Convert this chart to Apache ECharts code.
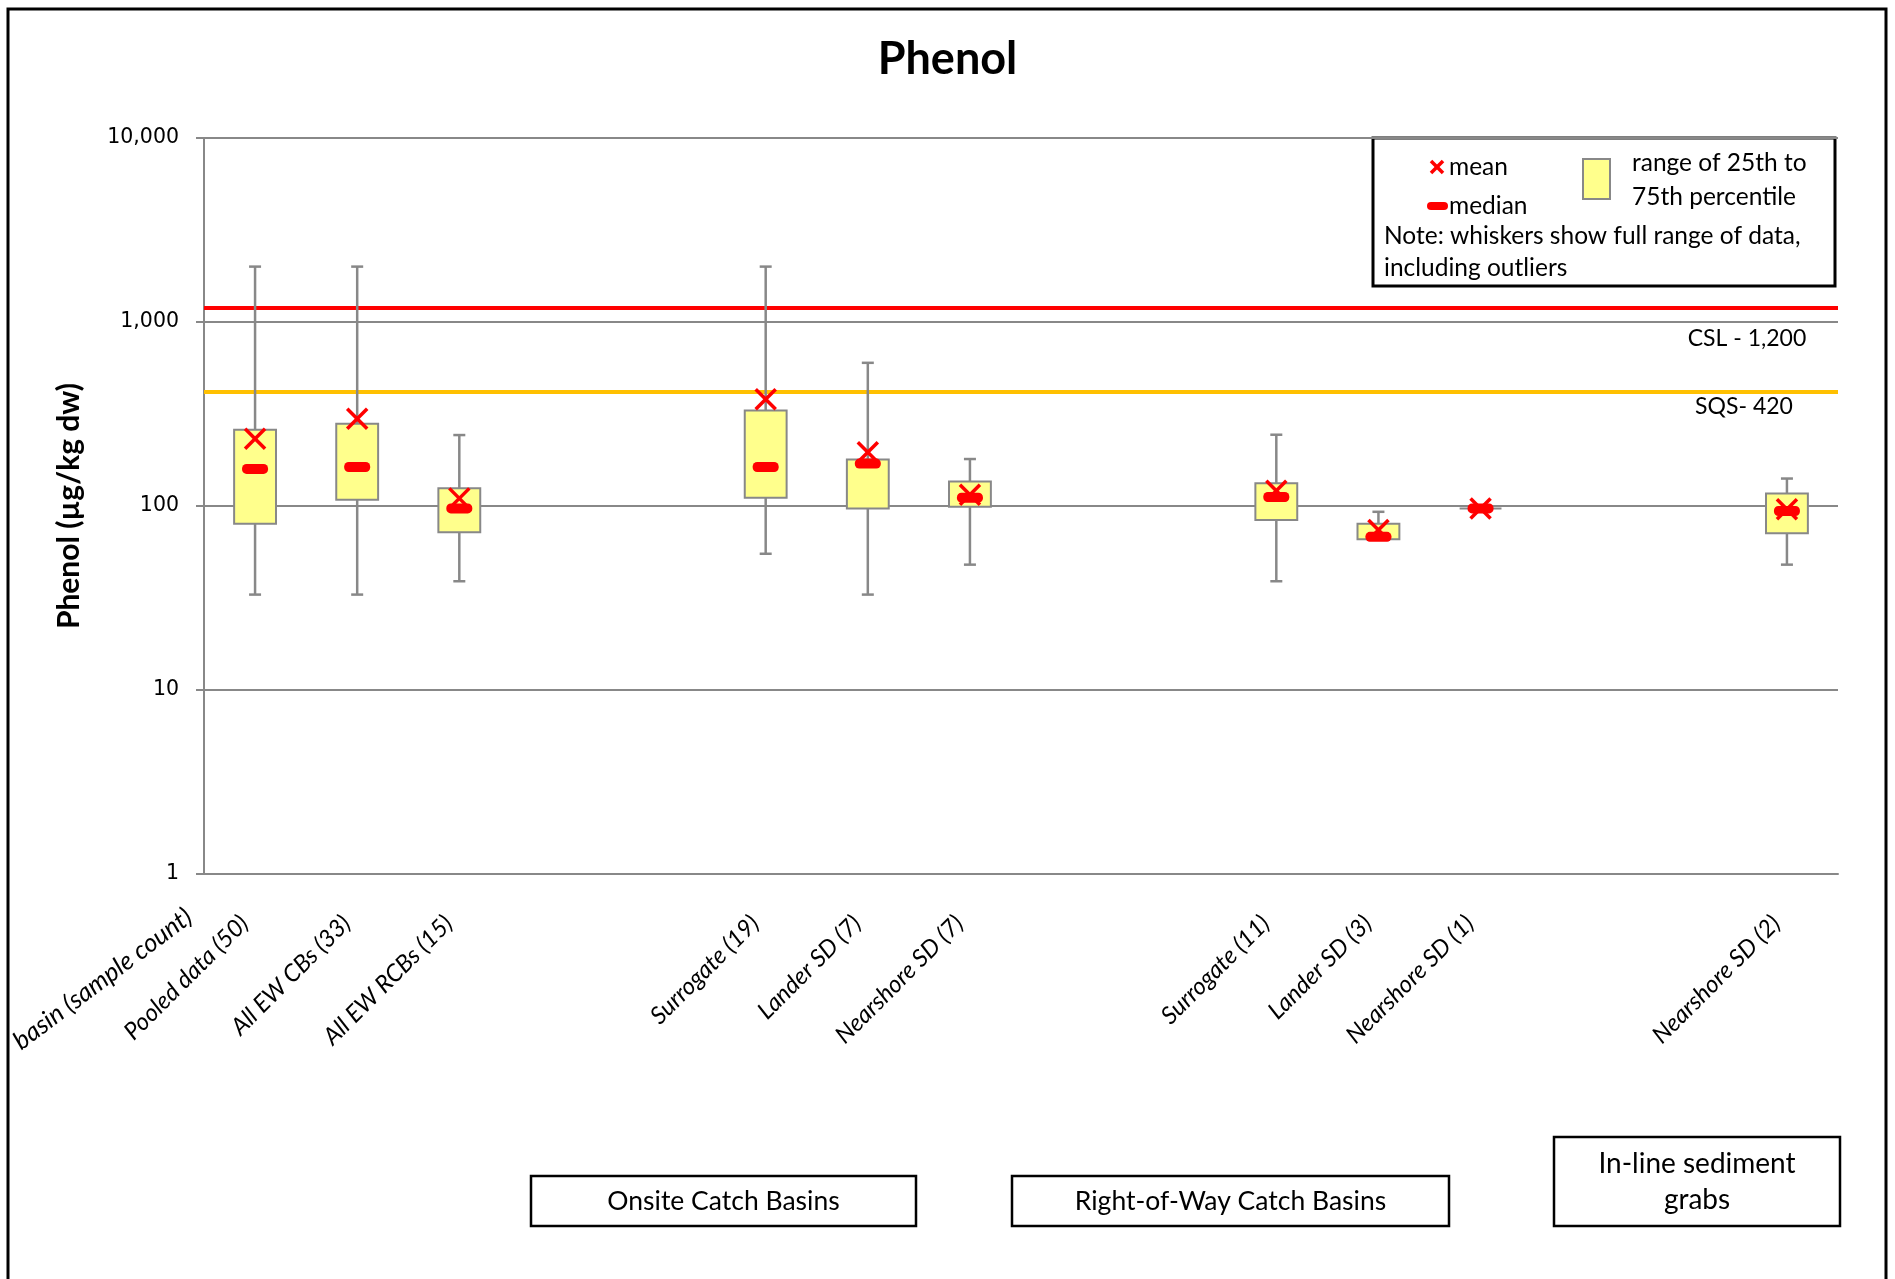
<!DOCTYPE html>
<html>
<head>
<meta charset="utf-8">
<title>Phenol</title>
<script src="https://cdn.jsdelivr.net/npm/echarts@6/dist/echarts.min.js"></script>
<style>
  html, body { margin: 0; padding: 0; background: #fff; }
  #chart { width: 1895px; height: 1279px; }
</style>
</head>
<body>
<div id="chart"></div>
<script>
// Sample groups along the x axis (blank slots separate the basin types)
const categories = [
  'Pooled data (50)', 'All EW CBs (33)', 'All EW RCBs (15)', '', '',
  'Surrogate (19)', 'Lander SD (7)', 'Nearshore SD (7)', '', '',
  'Surrogate (11)', 'Lander SD (3)', 'Nearshore SD (1)', '', '',
  'Nearshore SD (2)'
];

// Phenol concentrations, µg/kg dw
const minValues    = [33, 33, 39, null, null, 55, 33, 48, null, null, 39, 66, 97, null, null, 48];
const q1Values     = [80, 108, 72, null, null, 111, 97, 99, null, null, 84, 66, 97, null, null, 71];
const medianValues = [159, 163, 97, null, null, 163, 170, 111, null, null, 112, 68, 97, null, null, 94];
const q3Values     = [260, 280, 125, null, null, 330, 179, 136, null, null, 133, 80, 97, null, null, 117];
const maxValues    = [2000, 2000, 243, null, null, 2000, 600, 180, null, null, 244, 93, 97, null, null, 141];
const meanValues   = [232, 298, 110, null, null, 380, 196, 115, null, null, 121, 74, 97, null, null, 96];

// Screening levels
const cslValue = 1200;
const sqsValue = 420;

// Y axis tick values
const yTicks = [1, 10, 100, 1000, 10000];

const GRAY = '#888888';
const RED = '#FF0000';
const YELLOW = '#FFFF8C';
const LABEL_MARGIN = 35;
const LABEL_FONT = 24;
const GRID = { left: 204, right: 57, top: 138, bottom: 405 };
const KEY_FONT = '24.5px Lato';

const boxData = [];
categories.forEach(function (c, i) {
  if (minValues[i] == null) return;
  boxData.push([i, minValues[i], q1Values[i], medianValues[i], q3Values[i], maxValues[i], meanValues[i]]);
});

function renderBox(params, api) {
  const x = api.value(0);
  const pt = function (v) { return api.coord([x, v]); };
  const band = api.size([1, 0])[0];
  const boxW = band * 0.41;
  const capW = 12;
  const pMin = pt(api.value(1));
  const pQ1 = pt(api.value(2));
  const pMed = pt(api.value(3));
  const pQ3 = pt(api.value(4));
  const pMax = pt(api.value(5));
  const pMean = pt(api.value(6));
  const cx = pMin[0];
  const lineStyle = { stroke: GRAY, lineWidth: 2.5 };
  const xs = 10;
  return {
    type: 'group',
    children: [
      { type: 'line', shape: { x1: cx, y1: pMax[1], x2: cx, y2: pMin[1] }, style: lineStyle },
      { type: 'line', shape: { x1: cx - capW / 2, y1: pMax[1], x2: cx + capW / 2, y2: pMax[1] }, style: lineStyle },
      { type: 'line', shape: { x1: cx - capW / 2, y1: pMin[1], x2: cx + capW / 2, y2: pMin[1] }, style: lineStyle },
      {
        type: 'rect',
        shape: { x: cx - boxW / 2, y: pQ3[1], width: boxW, height: pQ1[1] - pQ3[1] },
        style: { fill: YELLOW, stroke: GRAY, lineWidth: 2 }
      },
      {
        type: 'rect',
        shape: { x: cx - 13, y: pMed[1] - 5, width: 26, height: 10, r: 4.5 },
        style: { fill: RED }
      },
      { type: 'line', shape: { x1: cx - xs, y1: pMean[1] - xs, x2: cx + xs, y2: pMean[1] + xs }, style: { stroke: RED, lineWidth: 3.5 } },
      { type: 'line', shape: { x1: cx - xs, y1: pMean[1] + xs, x2: cx + xs, y2: pMean[1] - xs }, style: { stroke: RED, lineWidth: 3.5 } }
    ]
  };
}

function groupBox(x, y, w, h, lines, fontPx) {
  const children = [
    { type: 'rect', shape: { x: x, y: y, width: w, height: h }, style: { fill: '#fff', stroke: '#000', lineWidth: 2.5 } }
  ];
  const lh = 36;
  const startY = y + h / 2 - (lines.length - 1) * lh / 2;
  lines.forEach(function (t, k) {
    children.push({
      type: 'text',
      style: { text: t, x: x + w / 2, y: startY + k * lh, align: 'center', verticalAlign: 'middle',
               font: fontPx + 'px Lato', fill: '#000' }
    });
  });
  return { type: 'group', children: children };
}

const chart = echarts.init(document.getElementById('chart'), null, { renderer: 'canvas' });

const option = {
  backgroundColor: '#fff',
  animation: false,
  title: {
    text: 'Phenol',
    left: 'center',
    top: 32,
    textStyle: { fontFamily: 'Lato', fontWeight: 'bold', fontSize: 45, color: '#000' }
  },
  grid: { left: GRID.left, right: GRID.right, top: GRID.top, bottom: GRID.bottom, containLabel: false },
  xAxis: {
    type: 'category',
    data: categories,
    axisLine: { lineStyle: { color: GRAY, width: 2 } },
    axisTick: { show: false },
    axisLabel: {
      interval: 0, rotate: 45, margin: LABEL_MARGIN, padding: [0, 15, 0, 0],
      fontFamily: 'Lato', fontStyle: 'italic', fontSize: LABEL_FONT, color: '#000'
    },
    splitLine: { show: false }
  },
  yAxis: {
    type: 'log',
    logBase: 10,
    min: yTicks[0],
    max: yTicks[yTicks.length - 1],
    name: 'Phenol (µg/kg dw)',
    nameLocation: 'middle',
    nameGap: 120,
    nameRotate: 90,
    nameTextStyle: { fontFamily: 'Lato', fontWeight: 'bold', fontSize: 30, color: '#000' },
    axisLine: { show: true, lineStyle: { color: GRAY, width: 2 } },
    axisTick: { show: true, inside: false, length: 8, lineStyle: { color: GRAY, width: 2 } },
    axisLabel: {
      margin: 25,
      fontFamily: 'DejaVu Sans', fontSize: 20.5, color: '#000',
      formatter: function (v) { return Math.round(v).toLocaleString('en-US'); }
    },
    splitLine: { show: true, lineStyle: { color: GRAY, width: 2 } }
  },
  series: [
    {
      type: 'custom',
      name: 'boxes',
      renderItem: renderBox,
      data: boxData,
      encode: { x: 0, y: [1, 2, 3, 4, 5, 6] },
      z: 5,
      markLine: {
        silent: true,
        symbol: ['none', 'none'],
        label: { show: false },
        z: 3,
        data: [
          { yAxis: cslValue, lineStyle: { color: '#FF0000', width: 4, type: 'solid' } },
          { yAxis: sqsValue, lineStyle: { color: '#FFC000', width: 4, type: 'solid' } }
        ]
      }
    }
  ],
  graphic: [
    // outer frame
    { type: 'polyline', shape: { points: [[8, 1285], [8, 9], [1886, 9], [1886, 1285]] },
      style: { stroke: '#000', lineWidth: 3, fill: null }, z: 100 },
    // screening level labels
    { type: 'text', style: { text: 'CSL - 1,200', x: 1747, y: 339, align: 'center', verticalAlign: 'middle', font: '23px Lato', fill: '#000' }, z: 50 },
    { type: 'text', style: { text: 'SQS- 420', x: 1744, y: 407, align: 'center', verticalAlign: 'middle', font: '23px Lato', fill: '#000' }, z: 50 },
    // first axis caption
    { type: 'text', x: 189, y: 914, rotation: 37 * Math.PI / 180,
      style: { text: 'basin (sample count)', align: 'right', verticalAlign: 'middle', font: 'italic 25.5px Lato', fill: '#000' }, z: 50 },
    // key
    {
      type: 'group', z: 60,
      children: [
        { type: 'rect', shape: { x: 1373, y: 138, width: 462, height: 148 }, style: { fill: '#fff', stroke: '#000', lineWidth: 3 } },
        { type: 'line', shape: { x1: 1431, y1: 161, x2: 1443, y2: 173 }, style: { stroke: RED, lineWidth: 3.5 } },
        { type: 'line', shape: { x1: 1431, y1: 173, x2: 1443, y2: 161 }, style: { stroke: RED, lineWidth: 3.5 } },
        { type: 'text', style: { text: 'mean', x: 1449, y: 167, verticalAlign: 'middle', font: KEY_FONT, fill: '#000' } },
        { type: 'rect', shape: { x: 1427, y: 202, width: 21, height: 8, r: 4 }, style: { fill: RED } },
        { type: 'text', style: { text: 'median', x: 1449, y: 206, verticalAlign: 'middle', font: KEY_FONT, fill: '#000' } },
        { type: 'rect', shape: { x: 1583, y: 159, width: 27, height: 40 }, style: { fill: YELLOW, stroke: GRAY, lineWidth: 2 } },
        { type: 'text', style: { text: 'range of 25th to', x: 1632, y: 163, verticalAlign: 'middle', font: KEY_FONT, fill: '#000' } },
        { type: 'text', style: { text: '75th percentile', x: 1632, y: 197, verticalAlign: 'middle', font: KEY_FONT, fill: '#000' } },
        { type: 'text', style: { text: 'Note: whiskers show full range of data,', x: 1384, y: 236, verticalAlign: 'middle', font: KEY_FONT, fill: '#000' } },
        { type: 'text', style: { text: 'including outliers', x: 1384, y: 268, verticalAlign: 'middle', font: KEY_FONT, fill: '#000' } }
      ]
    },
    // basin type captions
    groupBox(531, 1176, 385, 50, ['Onsite Catch Basins'], 26.5),
    groupBox(1012, 1176, 437, 50, ['Right-of-Way Catch Basins'], 26.5),
    groupBox(1554, 1137, 286, 89, ['In-line sediment', 'grabs'], 28)
  ]
};

chart.setOption(option);
</script>
</body>
</html>
